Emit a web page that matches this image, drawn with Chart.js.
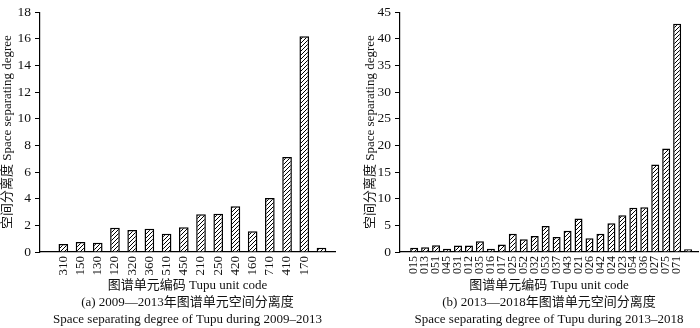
<!DOCTYPE html>
<html>
<head>
<meta charset="utf-8">
<script src="https://cdn.jsdelivr.net/npm/chart.js@4"></script>
<style>
  html, body { margin: 0; padding: 0; background: #fff; }
  #wrap { position: relative; width: 700px; height: 328px; }
  canvas { position: absolute; top: 0; }
  #c1 { left: 0; }
  #c2 { left: 350px; }
</style>
</head>
<body>
<div id="wrap">
  <canvas id="c1" width="350" height="328"></canvas>
  <canvas id="c2" width="350" height="328"></canvas>
</div>
<script>
// ---- data ----
const codesA = ['310','150','130','120','320','360','510','450','210','250','420','160','710','410','170',''];
const valuesA = [0.6, 0.75, 0.7, 1.82, 1.65, 1.75, 1.37, 1.85, 2.84, 2.87, 3.44, 1.55, 4.06, 7.13, 16.18, 0.32];
const yTicksA = [0, 2, 4, 6, 8, 10, 12, 14, 16, 18];

const codesB = ['015','013','051','045','031','012','035','016','017','025','052','032','053','037','043','021','026','042','024','023','054','036','027','075','071',''];
const valuesB = [0.8, 0.9, 1.25, 0.6, 1.2, 1.2, 2.0, 0.6, 1.4, 3.4, 2.4, 3.0, 4.9, 2.8, 4.0, 6.3, 2.6, 3.4, 5.4, 6.9, 8.3, 8.4, 16.4, 19.4, 42.8, 0.5];
const yTicksB = [0, 5, 10, 15, 20, 25, 30, 35, 40, 45];

const yTitle = '空间分离度 Space separating degree';
const xTitleA = ['图谱单元编码 Tupu unit code', '(a) 2009—2013年图谱单元空间分离度', 'Space separating degree of Tupu during 2009–2013'];
const xTitleB = ['图谱单元编码 Tupu unit code', '(b) 2013—2018年图谱单元空间分离度', 'Space separating degree of Tupu during 2013–2018'];

// ---- styling ----
Chart.defaults.font.family = '"Liberation Serif", "Noto Sans CJK SC", serif';
Chart.defaults.color = '#111';

function hatch() {
  const s = 4;
  const c = document.createElement('canvas');
  c.width = s; c.height = s;
  const g = c.getContext('2d');
  g.fillStyle = '#fff';
  g.fillRect(0, 0, s, s);
  g.strokeStyle = '#000';
  g.lineWidth = 1.0;
  g.beginPath();
  g.moveTo(-1, s + 1); g.lineTo(s + 1, -1);
  g.moveTo(-1, 1); g.lineTo(1, -1);
  g.moveTo(s - 1, s + 1); g.lineTo(s + 1, s - 1);
  g.stroke();
  return g.createPattern(c, 'repeat');
}

function makeChart(id, codes, values, yTicks, xTitle, cfg) {
  const ctx = document.getElementById(id).getContext('2d');
  const pattern = hatch();
  return new Chart(ctx, {
    type: 'bar',
    data: {
      datasets: [{
        data: values.map((v, i) => ({ x: i, y: v })),
        backgroundColor: pattern,
        borderColor: '#000',
        borderWidth: 1.5,
        borderSkipped: 'bottom',
        categoryPercentage: 1,
        barPercentage: cfg.barPct
      }]
    },
    options: {
      responsive: false,
      devicePixelRatio: 1,
      animation: false,
      layout: { padding: { top: 11, left: 0, right: cfg.padRight, bottom: 0 } },
      plugins: { legend: { display: false }, tooltip: { enabled: false } },
      scales: {
        x: {
          type: 'linear',
          min: cfg.xMin,
          max: cfg.xMax,
          afterBuildTicks: s => { s.ticks = codes.map((c, i) => ({ value: i })); },
          afterFit: s => { s.height = 76; },
          grid: { display: false },
          border: { display: true, color: '#000', width: 1.2 },
          ticks: {
            autoSkip: false,
            minRotation: 90,
            maxRotation: 90,
            padding: -4,
            font: { size: cfg.xFont },
            callback: v => codes[v] || ''
          },
          title: {
            display: true,
            text: xTitle,
            font: { size: 13, lineHeight: 17 / 13 },
            padding: 0
          }
        },
        y: {
          min: 0,
          max: yTicks[yTicks.length - 1],
          afterBuildTicks: s => { s.ticks = yTicks.map(v => ({ value: v })); },
          afterFit: s => { s.width = cfg.yWidth; },
          grid: { display: true, drawOnChartArea: false, drawTicks: true, tickLength: 5, color: '#000', lineWidth: 1 },
          border: { display: true, color: '#000', width: 1.2 },
          ticks: { padding: 4, font: { size: 13.5 } },
          title: {
            display: true,
            text: yTitle,
            font: { size: 13 },
            padding: { top: cfg.yTitlePad, bottom: 0 }
          }
        }
      }
    }
  });
}

makeChart('c1', codesA, valuesA, yTicksA, xTitleA,
  { xMin: -0.82, xMax: 15.25, barPct: 0.56, padRight: 15, yWidth: 40, yTitlePad: 0, xFont: 13 });
makeChart('c2', codesB, valuesB, yTicksB, xTitleB,
  { xMin: -0.77, xMax: 25.38, barPct: 0.73, padRight: 2, yWidth: 50, yTitlePad: 13, xFont: 12 });
</script>
</body>
</html>
